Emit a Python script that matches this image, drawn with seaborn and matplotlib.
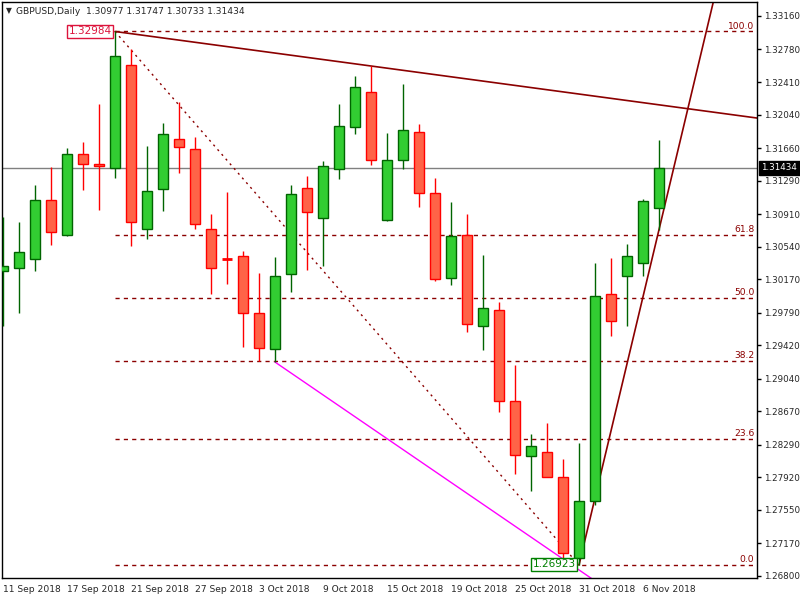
import matplotlib
matplotlib.use("Agg")
import matplotlib.pyplot as plt
import seaborn as sns
import pandas as pd
import numpy as np

dates = pd.bdate_range("2018-09-11", periods=42)
opens = [1.30263,1.30297,1.30400,1.31070,1.30672,1.31592,1.31479,1.31433,1.32603,1.30740,
         1.31195,1.31763,1.31649,1.30740,1.30400,1.30434,1.29786,1.29377,1.30229,1.31206,
         1.30865,1.31422,1.31899,1.32297,1.30843,1.31524,1.31842,1.31149,1.30184,1.30672,
         1.29638,1.29820,1.28786,1.28162,1.28207,1.27923,1.27003,1.27650,1.30002,1.30206,
         1.30354,1.30977]
highs = [1.30877,1.30820,1.31240,1.31445,1.31661,1.31729,1.32160,1.32984,1.32785,1.31683,
         1.31944,1.32183,1.31785,1.30911,1.31161,1.30490,1.30241,1.30422,1.31240,1.31342,
         1.31513,1.32160,1.32478,1.32592,1.31831,1.32388,1.31933,1.31320,1.31047,1.30911,
         1.30445,1.29911,1.29195,1.28412,1.28537,1.28128,1.28309,1.30354,1.30411,1.30570,
         1.31081,1.31747]
lows = [1.29638,1.29786,1.30263,1.30559,1.30661,1.31183,1.30956,1.31320,1.30547,1.30627,
        1.30945,1.31377,1.30740,1.30002,1.30116,1.29400,1.29241,1.29229,1.30025,1.30275,
        1.30320,1.31308,1.31820,1.31467,1.30831,1.31422,1.30990,1.30150,1.30104,1.29570,
        1.29366,1.28661,1.27957,1.27764,1.27923,1.26992,1.26923,1.27605,1.29525,1.29638,
        1.30206,1.30733]
closes = [1.30320,1.30479,1.31070,1.30706,1.31592,1.31479,1.31456,1.32706,1.30820,1.31172,
          1.31820,1.31672,1.30797,1.30297,1.30398,1.29786,1.29389,1.30206,1.31138,1.30933,
          1.31456,1.31910,1.32353,1.31524,1.31524,1.31865,1.31149,1.30172,1.30661,1.29661,
          1.29843,1.28786,1.28173,1.28275,1.27923,1.27060,1.27650,1.29979,1.29695,1.30434,
          1.31058,1.31434]
fib_levels = [0.0, 23.6, 38.2, 50.0, 61.8, 100.0]
y_ticks = [1.33160,1.32780,1.32410,1.32040,1.31660,1.31290,1.30910,1.30540,1.30170,
           1.29790,1.29420,1.29040,1.28670,1.28290,1.27920,1.27550,1.27170,1.26800]
x_label_idx = [0,4,8,12,16,20,24,28,32,36,40]

sns.set_style("white")
plt.rcParams['font.family'] = ['DejaVu Sans']
FS = 6.6
YFS = 6.3

fig = plt.figure(figsize=(8, 6), dpi=100)
ax = fig.add_axes([2/800, 22/600, 755/800, 576/600])
ax.set_xlim(-0.0625, 47.125)
ax.set_ylim(1.26776, 1.33319)

df = pd.DataFrame({"x": np.arange(42), "o": opens, "h": highs, "l": lows, "c": closes})
GREEN, GEDGE, RED, REDGE = "#32CD32", "#006400", "#FF6347", "#FF0000"
w = 0.62
for _, r in df.iterrows():
    u = r.c >= r.o
    edge = GEDGE if u else REDGE
    ax.vlines(r.x, r.l, r.h, color=edge, lw=1, zorder=3)
    bot, hgt = min(r.o, r.c), abs(r.c - r.o)
    if hgt < 0.00004:
        ax.hlines(r.o, r.x - w/2, r.x + w/2, color=edge, lw=2, zorder=4)
    else:
        ax.bar(r.x, hgt, bottom=bot, width=w, color=GREEN if u else RED,
               edgecolor=edge, lw=1, zorder=4)

ax.axhline(closes[-1], color="#808080", lw=1, zorder=1)

hi_i, lo_i = 7, 36
hi, lo = highs[hi_i], lows[lo_i]
for lv in fib_levels:
    yv = lo + (hi - lo) * lv / 100
    ax.hlines(yv, hi_i, 47.125, color="#8B0000", lw=1, ls=(0, (3, 3)), zorder=2)
    ax.text(46.95, yv + 0.0001, f"{lv:.1f}", color="#8B0000", fontsize=FS,
            ha="right", va="bottom")
ax.plot([hi_i, lo_i], [hi, lo], color="#8B0000", lw=1, ls=(0, (1.5, 3)), zorder=2)

def extend(i1, p1, i2, p2, xend):
    s = (p2 - p1) / (i2 - i1)
    return [i1, xend], [p1, p1 + s * (xend - i1)]
xs, ys = extend(7, highs[7], 23, highs[23], 47.2)
ax.plot(xs, ys, color="#8B0000", lw=1.2, zorder=2)
xs, ys = extend(36, lows[36], 41, lows[41], 46)
ax.plot(xs, ys, color="#8B0000", lw=1.2, zorder=2)
xs, ys = extend(17, lows[17], 35, lows[35], 38)
ax.plot(xs, ys, color="#FF00FF", lw=1, zorder=2)

ax.text(hi_i - 0.2, hi, f"{hi:.5f}", color="#DC143C", fontsize=7.5, ha="right", va="center",
        bbox=dict(boxstyle="square,pad=0.15", fc="white", ec="#DC143C", lw=1), zorder=6)
ax.text(lo_i - 0.2, lo + 0.0001, f"{lo:.5f}", color="#008000", fontsize=7.5, ha="right", va="center",
        bbox=dict(boxstyle="square,pad=0.15", fc="white", ec="#008000", lw=1), zorder=6)

ax.yaxis.tick_right()
ax.set_yticks(y_ticks)
ax.set_yticklabels([f"{t:.5f}" for t in y_ticks], fontsize=YFS)
ax.set_xticks(x_label_idx)
ax.set_xticklabels([f"{dates[i].day} {dates[i].strftime('%b %Y')}" for i in x_label_idx],
                   fontsize=FS, ha="left")
ax.tick_params(axis="both", length=3, width=1, color="black", pad=2, direction="out")
for sp in ax.spines.values():
    sp.set_color("black"); sp.set_linewidth(1)

ax.text(1.006, closes[-1], f"{closes[-1]:.5f}", transform=ax.get_yaxis_transform(),
        color="white", fontsize=YFS, ha="left", va="center",
        bbox=dict(boxstyle="square,pad=0.3", fc="black", ec="black"), zorder=7, clip_on=False)

fig.text(6/800, 1 - 11/600, "\u25BC", fontsize=5.5, va="center")
fig.text(16/800, 1 - 11/600, "GBPUSD,Daily  1.30977 1.31747 1.30733 1.31434",
         fontsize=FS, va="center")

fig.savefig("out.png", dpi=100, facecolor="white")
